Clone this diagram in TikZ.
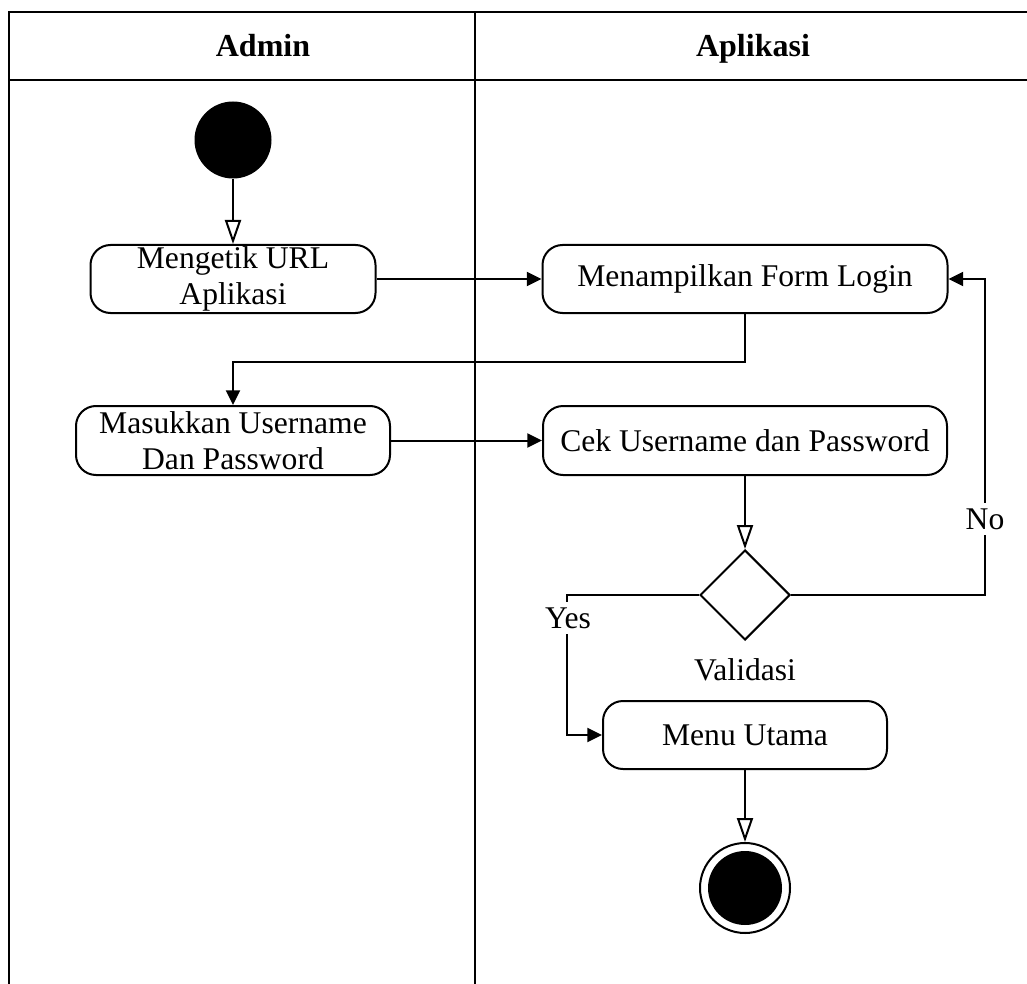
\documentclass[tikz,border=0pt]{standalone}
\usepackage{fontspec}
\setmainfont{Liberation Serif}
\usetikzlibrary{arrows.meta,shapes.geometric}
\begin{document}
\begin{tikzpicture}[x=0.75pt,y=-0.75pt,
  lw/.style={line width=1.5pt},
  txt/.style={font=\fontsize{23.7}{27}\selectfont},
  hdr/.style={font=\fontsize{24}{27}\selectfont\bfseries,anchor=base},
  act/.style={draw,lw,rounded corners=15pt,inner sep=0pt,align=center,txt},
  flow/.style={lw,-{Triangle[length=11pt,width=10.5pt]}},
  uml/.style={lw,-{Triangle[open,length=18pt,width=12pt]}},
  lbl/.style={txt,fill=white,inner sep=4pt}]
  \useasboundingbox (0,0) rectangle (1027,984);
  \clip (0,0) rectangle (1027,984);

  % swimlane frame
  \draw[lw] (9,1000) -- (9,12) -- (1045,12);
  \draw[lw] (9,80) -- (1045,80);
  \draw[lw] (475,12) -- (475,1000);
  \node[hdr] (hAdmin) at (263,57) {Admin};
  \node[hdr] (hApp) at (753,57) {Aplikasi};

  % activities
  \node[circle,fill,inner sep=0pt,minimum size=57.75pt] (start) at (233,140) {};
  \node[act,minimum width=213.75pt,minimum height=51pt] (a1) at (233,279) {Mengetik URL\\Aplikasi};
  \node[act,minimum width=303.75pt,minimum height=51pt] (a2) at (745,279) {Menampilkan Form Login};
  \node[act,minimum width=235.5pt,minimum height=51.75pt] (a3) at (233,440.5) {Masukkan Username\\Dan Password};
  \node[act,minimum width=303pt,minimum height=51.75pt] (a4) at (745,440.5) {Cek Username dan Password};
  \node[diamond,draw,lw,inner sep=0pt,minimum width=67.5pt,minimum height=67.5pt] (dec) at (745,595) {};
  \node[txt] (val) at (745,670) {Validasi};
  \node[act,minimum width=213pt,minimum height=51pt] (a5) at (745,735) {Menu Utama};
  \node[circle,draw,lw,inner sep=0pt,minimum size=67.5pt] (stop) at (745,888) {};
  \node[circle,fill,inner sep=0pt,minimum size=55.5pt] (stopIn) at (745,888) {};

  % bend points
  \coordinate (j1) at (233,362);
  \coordinate (cNo) at (985,595);
  \coordinate (cYes) at (567,595);

  % connectors
  \draw[uml] (start) -- (a1);
  \draw[flow] (a1) -- (a2);
  \draw[flow] (a2.south) |- (j1) -- (a3.north);
  \draw[flow] (a3) -- (a4);
  \draw[uml] (a4.south) -- (dec.north);
  \draw[flow] (dec.east) -- (cNo) |- (a2.east);
  \draw[flow] (dec.west) -- (cYes) |- (a5.west);
  \draw[uml] (a5.south) -- (stop.north);

  % guard labels
  \node[lbl] (lNo) at (985,519) {No};
  \node[lbl] (lYes) at (568,618) {Yes};
\end{tikzpicture}
\end{document}
